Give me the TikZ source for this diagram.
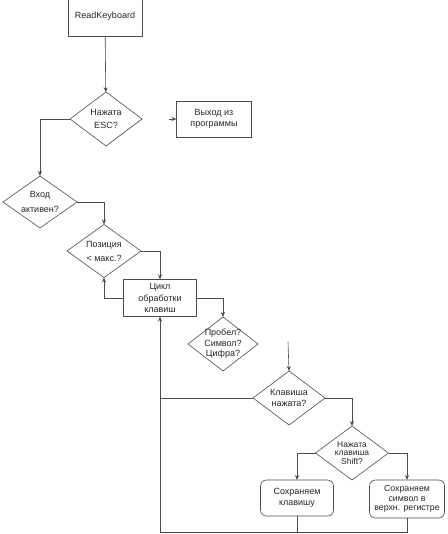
\documentclass[tikz,border=0pt]{standalone}
\usepackage{fontspec}
\setmainfont{Liberation Sans}
\usetikzlibrary{shapes.geometric,arrows.meta}
\definecolor{ln}{gray}{0.3}
\definecolor{tx}{gray}{0.15}
\tikzset{
  base/.style={draw=ln, line width=0.6pt, inner sep=0pt, outer sep=0pt, text=tx, align=center, font=\fontsize{9}{11}\selectfont},
  box/.style={base, rectangle},
  rbox/.style={base, rectangle, rounded corners=6pt},
  dia/.style={base, diamond},
  lbl/.style={align=center, text=tx, inner sep=0pt},
  arr/.style={draw=ln, line width=0.6pt, -{Stealth[length=5pt,width=4pt]}},
  ln/.style={draw=ln, line width=0.6pt}
}
\begin{document}
\begin{tikzpicture}[x=1pt,y=-1pt]
\useasboundingbox (0,0) rectangle (447,534);
\node[box, minimum width=74pt, minimum height=40pt] (rk) at (105,16) {\raisebox{-2pt}{ReadKeyboard}};
\node[dia, minimum width=72pt, minimum height=54pt, label={[lbl,font=\fontsize{9}{13}\selectfont]center:{Нажата\\ESC?}}] (esc) at (106,119) {};
\node[box, minimum width=75pt, minimum height=36pt] (exit) at (214,119) {Выход из\\программы};
\node[dia, minimum width=74pt, minimum height=52pt, label={[lbl,font=\fontsize{9}{15}\selectfont]center:{Вход\\активен?}}] (act) at (40,202) {};
\node[dia, minimum width=74pt, minimum height=53pt, label={[lbl,font=\fontsize{9}{14}\selectfont]center:{Позиция\\< макс.?}}] (pos) at (104,251) {};
\node[box, minimum width=73pt, minimum height=37pt, font=\fontsize{9}{11.5}\selectfont] (cyc) at (160,298) {Цикл\\обработки\\клавиш};
\node[dia, minimum width=70pt, minimum height=54pt, label={[lbl,font=\fontsize{9}{10.5}\selectfont]center:{Пробел?\\Символ?\\Цифра?}}] (spc) at (223,344) {};
\coordinate (fa) at (288,342);
\node[dia, minimum width=72pt, minimum height=54pt, label={[lbl,font=\fontsize{9}{11}\selectfont]center:{Клавиша\\нажата?}}] (kn) at (289,398) {};
\node[dia, minimum width=73pt, minimum height=54pt, label={[lbl,font=\fontsize{8.5}{8.8}\selectfont]center:{Нажата\\клавиша\\Shift?}}] (sh) at (352,453) {};
\node[rbox, minimum width=73pt, minimum height=36pt] (s1) at (297,498) {Сохраняем\\клавишу};
\node[rbox, minimum width=75pt, minimum height=38pt, font=\fontsize{8.8}{9.5}\selectfont] (s2) at (407,499) {Сохраняем\\символ в\\верхн. регистре};
\coordinate (stub) at (169,119);
\coordinate (bl) at (160,532);
\draw[arr] (rk) -- (esc);
\draw[arr] (stub) -- (exit.west);
\draw[arr] (esc.west) -| (act.north);
\draw[arr] (act.east) -| (pos.north);
\draw[arr] (pos.east) -| (cyc.north);
\draw[arr] (cyc.west) -| (pos.south);
\draw[arr] (cyc.east) -| (spc.north);
\draw[arr] (fa) -- (kn.north);
\draw[arr] (kn.east) -| (sh.north);
\draw[ln] (kn.west) -- (kn.west -| bl);
\draw[arr] (sh.west) -| (s1.north);
\draw[arr] (sh.east) -| (s2.north);
\draw[ln] (s1.south) -- (s1.south |- bl);
\draw[arr] (s2.south) |- (bl) -- (cyc.south);
\end{tikzpicture}
\end{document}
